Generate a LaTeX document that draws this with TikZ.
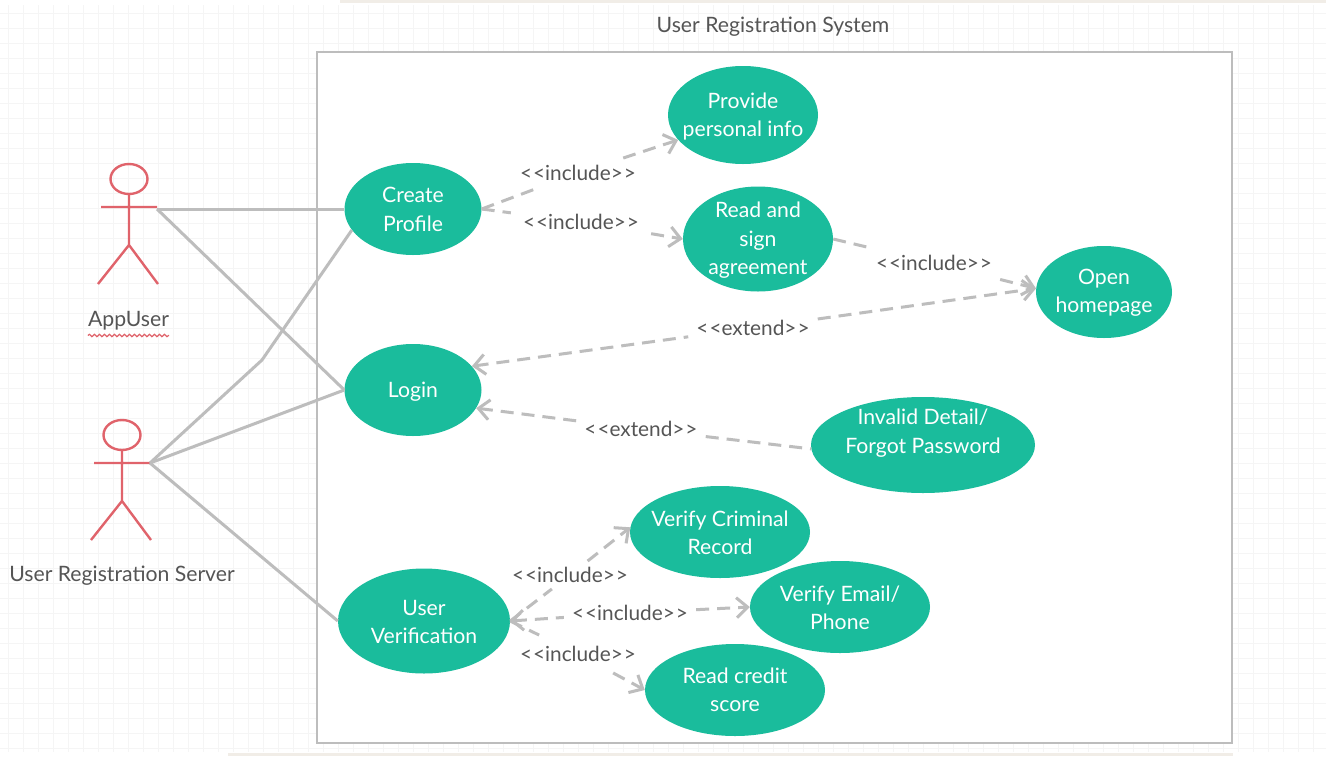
\documentclass[tikz,border=0pt]{standalone}
\usepackage{fontspec}
\setmainfont{Lato}
\usetikzlibrary{shapes.geometric,arrows.meta,decorations.pathmorphing}
\definecolor{uc}{HTML}{1ABC9C}
\definecolor{gline}{HTML}{BDBDBD}
\definecolor{ink}{HTML}{555555}
\definecolor{actorred}{HTML}{E0636B}
\definecolor{gridc}{HTML}{F5F5F5}
\definecolor{stripc}{HTML}{F1EDE7}
\newcommand{\inc}{<\kern1pt<include>\kern1pt>}
\newcommand{\ext}{<\kern1pt<extend>\kern1pt>}
\tikzset{
  usecase/.style={ellipse,fill=uc,inner sep=-40pt},
  uctext/.style={text=white,font=\fontsize{21.2}{28.3}\selectfont,align=center,inner sep=0pt},
  lbl/.style={text=ink,font=\fontsize{20.8}{24}\selectfont,inner xsep=8pt,inner ysep=7pt,yshift=-1pt},
  txt/.style={text=ink,font=\fontsize{21.2}{26}\selectfont,inner sep=0pt},
  assoc/.style={draw=gline,line width=3pt},
  dep/.style={draw=gline,line width=3pt,dash pattern=on 13pt off 8pt},
  tip/.style={-{Straight Barb[length=11pt,width=20pt,line width=3pt]}},
  tail/.style={{Straight Barb[length=11pt,width=20pt,line width=3pt]}-},
  actor/.style={draw=actorred,line width=2.4pt},
}
\begin{document}
\begin{tikzpicture}[x=1pt,y=-1pt]
\useasboundingbox (0,0) rectangle (1326,756);
\fill[white] (0,0) rectangle (1326,756);
\foreach \gx in {8,23,...,1320} \draw[gridc,line width=1pt] (\gx,5) -- (\gx,752);
\foreach \gy in {13,28,...,750} \draw[gridc,line width=1pt] (0,\gy) -- (1326,\gy);
\fill[stripc] (340,0) rectangle (1326,3);
\fill[stripc] (228,753) rectangle (1233,756);
\draw[gline,line width=2pt,fill=white] (317,52) rectangle (1232,743);
\node[txt] (title) at (773,26.5) {User Registration System};
% use cases
\node[usecase,minimum width=137pt,minimum height=92pt,label={[uctext,yshift=-0.5pt]center:{Create\\Profile}}] (create) at (413,209) {};
\node[usecase,minimum width=150pt,minimum height=98pt,label={[uctext,yshift=-1.5pt]center:{Provide\\personal info}}] (provide) at (743,115) {};
\node[usecase,minimum width=150pt,minimum height=105pt,label={[uctext,yshift=-1.2pt]center:{Read and\\sign\\agreement}}] (read) at (758,239) {};
\node[usecase,minimum width=136pt,minimum height=92pt,label={[uctext,yshift=-1pt]center:{Open\\homepage}}] (open) at (1104,292) {};
\node[usecase,minimum width=137pt,minimum height=92pt,label={[uctext,yshift=-2pt]center:{Login}}] (login) at (413,390) {};
\node[usecase,minimum width=224pt,minimum height=96pt,label={[uctext,yshift=12pt]center:{Invalid Detail/\\Forgot Password}}] (invalid) at (923,445) {};
\node[usecase,minimum width=180pt,minimum height=92pt,label={[uctext,yshift=-0.5pt]center:{Verify Criminal\\Record}}] (crim) at (720,532) {};
\node[usecase,minimum width=180pt,minimum height=92pt,label={[uctext,yshift=-0.5pt]center:{Verify Email/\\Phone}}] (email) at (840,607) {};
\node[usecase,minimum width=180pt,minimum height=92pt,label={[uctext,yshift=0pt]center:{Read credit\\score}}] (credit) at (735,690) {};
\node[usecase,minimum width=172pt,minimum height=105pt,label={[uctext,yshift=-1pt]center:{User\\Verification}}] (uv) at (424,621) {};
% labels
\node[lbl] (l1) at (578,172) {\inc};
\node[lbl,inner xsep=12pt] (l2) at (581,221) {\inc};
\node[lbl,inner ysep=11pt] (l3) at (934,262) {\inc};
\node[lbl] (l4) at (753,327) {\ext};
\node[lbl] (l5) at (641,428) {\ext};
\node[lbl,inner ysep=6pt] (l6) at (570,574) {\inc};
\node[lbl] (l7) at (630,612) {\inc};
\node[lbl,inner ysep=11pt] (l8) at (578,653) {\inc};
% dependencies
\draw[dep] (create.east) -- (l1);
\draw[dep,tip] (l1) -- (provide.201);
\draw[dep] (create.east) -- (l2);
\draw[dep,tip] (l2) -- (read.west);
\draw[dep] (read.east) -- (l3);
\draw[dep,tip] (l3) -- (open.177);
\draw[dep,tail] (login.22) -- (l4);
\draw[dep,tip] (l4) -- (open.177);
\draw[dep,tail] (login.-16) -- (l5);
\draw[dep] (l5) -- (invalid.182);
\draw[dep] (uv.east) -- (l6);
\draw[dep,tip] (l6) -- (crim.177);
\draw[dep,tail] (uv.east) -- (l7);
\draw[dep,tip] (l7) -- (email.west);
\draw[dep] (uv.east) -- (l8);
\draw[dep,tip] (l8) -- (credit.west);
% actors
\coordinate (auhand) at (157,209);
\coordinate (srvhand) at (150,463);
\coordinate (bend) at (262,360);
\node[draw=actorred,line width=2.4pt,ellipse,minimum width=37pt,minimum height=30pt,inner sep=0pt] (auhead) at (129,179) {};
\coordinate (auhip) at (129,245);
\coordinate (auL) at (101,207);
\coordinate (auR) at (157,207);
\coordinate (auF1) at (98,284);
\coordinate (auF2) at (158,284);
\draw[actor] (auhead) -- (auhip) (auL) -- (auR) (auF1) -- (auhip) -- (auF2);
\node[draw=actorred,line width=2.4pt,ellipse,minimum width=37pt,minimum height=30pt,inner sep=0pt] (srvhead) at (122,435) {};
\coordinate (srvhip) at (122,501);
\coordinate (srvL) at (94,463);
\coordinate (srvR) at (150,463);
\coordinate (srvF1) at (91,540);
\coordinate (srvF2) at (151,540);
\draw[actor] (srvhead) -- (srvhip) (srvL) -- (srvR) (srvF1) -- (srvhip) -- (srvF2);
\node[txt] (aulabel) at (128.5,321) {AppUser};
\node[txt] (srvlabel) at (122,576) {User Registration Server};
\draw[actorred,line width=1.2pt,decorate,decoration={snake,amplitude=1.2pt,segment length=5pt}] (aulabel.south west |- 0,335.5) -- (aulabel.south east |- 0,335.5);
% associations
\draw[assoc] (auhand) -- (create.west);
\draw[assoc] (auhand) -- (login.west);
\draw[assoc] (srvhand) -- (bend) -- (create.199);
\draw[assoc] (srvhand) -- (login.west);
\draw[assoc] (srvhand) -- (uv.west);
\end{tikzpicture}
\end{document}
